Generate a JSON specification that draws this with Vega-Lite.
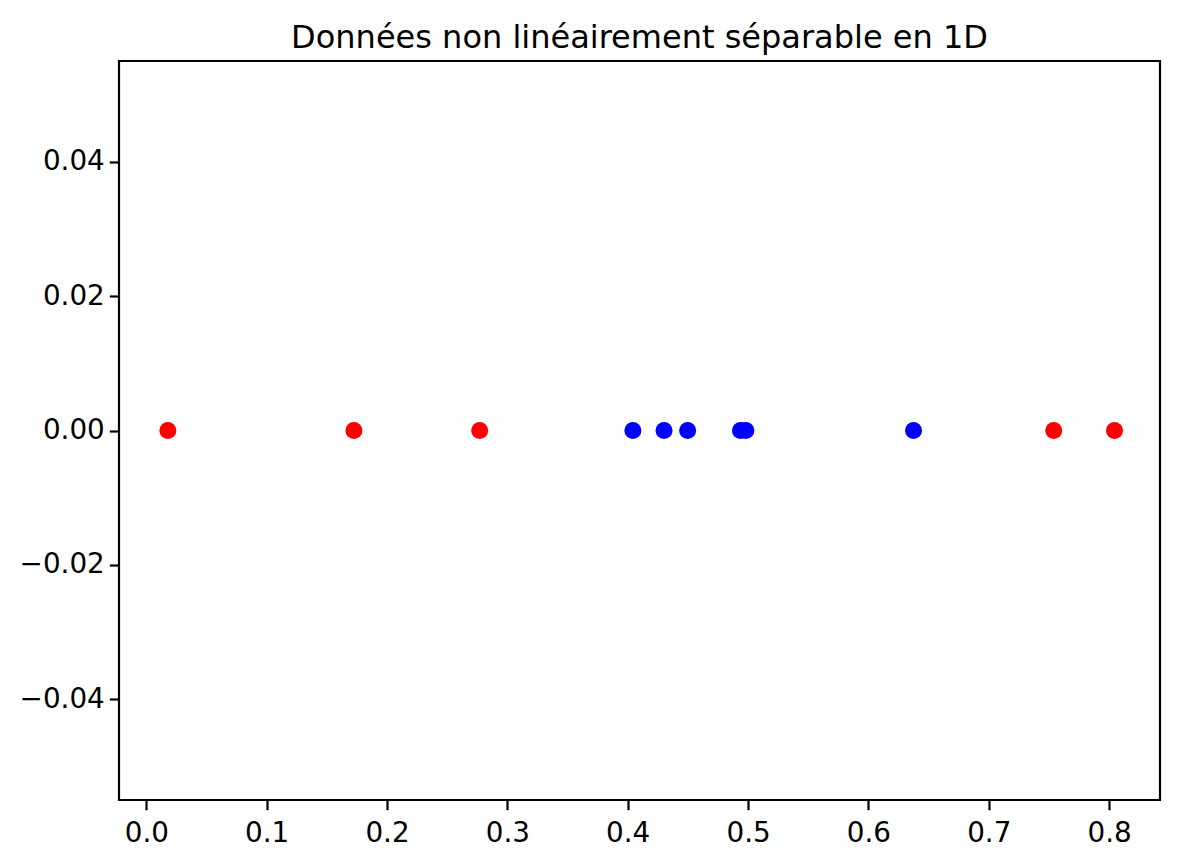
{
  "$schema": "https://vega.github.io/schema/vega-lite/v6.json",
  "width": 1041,
  "height": 739,
  "autosize": {"type": "none"},
  "padding": {"left": 119, "top": 61, "right": 20, "bottom": 64},
  "background": "white",
  "title": {
    "text": "Données non linéairement séparable en 1D",
    "font": "DejaVu Sans",
    "fontSize": 32,
    "fontWeight": "normal",
    "color": "black",
    "anchor": "middle",
    "baseline": "alphabetic",
    "offset": 17,
    "dy": 36
  },
  "config": {
    "view": {"stroke": "black", "strokeWidth": 2.2},
    "axis": {
      "grid": false,
      "domain": false,
      "ticks": true,
      "tickColor": "black",
      "tickWidth": 2.2,
      "tickSize": 9.7,
      "labelPadding": 9.7,
      "labelFont": "DejaVu Sans",
      "labelFontSize": 27.8,
      "labelColor": "black",
      "title": null
    },
    "axisY": {"labelPadding": 5}
  },
  "data": {
    "values": [
      {"x": 0.0179, "y": 0, "class": "red"},
      {"x": 0.1725, "y": 0, "class": "red"},
      {"x": 0.2770, "y": 0, "class": "red"},
      {"x": 0.4043, "y": 0, "class": "blue"},
      {"x": 0.4302, "y": 0, "class": "blue"},
      {"x": 0.4498, "y": 0, "class": "blue"},
      {"x": 0.4937, "y": 0, "class": "blue"},
      {"x": 0.4982, "y": 0, "class": "blue"},
      {"x": 0.6375, "y": 0, "class": "blue"},
      {"x": 0.7540, "y": 0, "class": "red"},
      {"x": 0.8045, "y": 0, "class": "red"}
    ]
  },
  "mark": {"type": "point", "filled": true, "shape": "circle", "size": 290, "opacity": 1},
  "encoding": {
    "x": {
      "field": "x",
      "type": "quantitative",
      "scale": {"domain": [-0.0227, 0.8423], "nice": false, "zero": false},
      "axis": {"values": [0, 0.1, 0.2, 0.3, 0.4, 0.5, 0.6, 0.7, 0.8], "format": ".1f"}
    },
    "y": {
      "field": "y",
      "type": "quantitative",
      "scale": {"domain": [-0.055, 0.055], "nice": false, "zero": false},
      "axis": {"values": [-0.04, -0.02, 0, 0.02, 0.04], "format": ".2f"}
    },
    "color": {
      "field": "class",
      "type": "nominal",
      "scale": {"domain": ["red", "blue"], "range": ["#ff0000", "#0000ff"]},
      "legend": null
    }
  }
}
